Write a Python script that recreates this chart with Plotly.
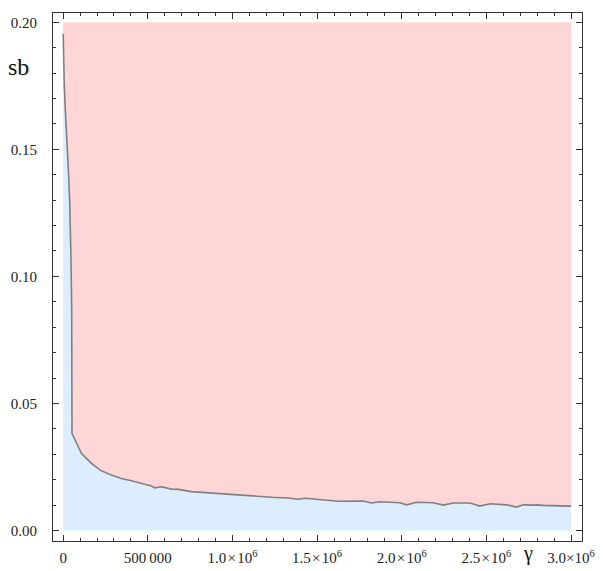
import plotly.graph_objects as go

# Boundary curve of the region (gamma, sb)
gamma = [0, 2000, 6000, 12000, 19000, 25000, 32000, 38000, 43000, 46000, 50000, 52000,
         68000, 107600, 166700, 225800, 284900, 344000, 403100, 462200, 521300, 540900,
         580500, 639600, 678600, 757800, 836400, 935100, 1033200, 1132000, 1230700, 1328800,
         1387900, 1427500, 1496700, 1594800, 1614900, 1772100, 1821800, 1870800, 1989000, 2028700,
         2087800, 2185900, 2245000, 2304100, 2402800, 2461900, 2521000, 2619700, 2678800, 2717900,
         2777000, 2797000, 2836100, 2994000, 3000000]
sb = [0.1955, 0.186, 0.176, 0.166, 0.158, 0.150, 0.140, 0.130, 0.118, 0.107, 0.088, 0.0382,
      0.0359, 0.0304, 0.0264, 0.0235, 0.0218, 0.0205, 0.0196, 0.0186, 0.0175, 0.0168,
      0.0172, 0.0163, 0.0162, 0.0153, 0.0149, 0.0145, 0.0140, 0.0136, 0.0131, 0.0128,
      0.0123, 0.0127, 0.0124, 0.0117, 0.0115, 0.0116, 0.0108, 0.0113, 0.0109, 0.0101,
      0.0111, 0.0109, 0.0100, 0.0108, 0.0108, 0.0096, 0.0105, 0.0101, 0.0092, 0.0101,
      0.0100, 0.0101, 0.0099, 0.0096, 0.0096]

sb_min = 0.0
sb_max = 0.20

x_tickvals = [0, 500000, 1000000, 1500000, 2000000, 2500000, 3000000]
x_ticktext = ["0", "500\u2009000", "1.0\u200a\u00d7\u200a10<sup>6</sup>",
              "1.5\u200a\u00d7\u200a10<sup>6</sup>", "2.0\u200a\u00d7\u200a10<sup>6</sup>",
              "2.5\u200a\u00d7\u200a10<sup>6</sup>", "3.0\u00d710<sup>6</sup>"]
y_tickvals = [0.0, 0.05, 0.10, 0.15, 0.20]
y_ticktext = ["0.00", "0.05", "0.10", "0.15", "0.20"]

pink = "rgb(255,214,216)"
blue = "rgb(220,237,254)"
edge = "rgb(128,128,128)"
serif = "Liberation Serif"

fig = go.Figure()
fig.add_trace(go.Scatter(x=gamma, y=[sb_min] * len(gamma), mode="lines",
                         line=dict(width=0, color=blue), hoverinfo="skip", showlegend=False))
fig.add_trace(go.Scatter(x=gamma, y=sb, mode="lines", fill="tonexty", fillcolor=blue,
                         line=dict(width=0, color=edge), showlegend=False))
fig.add_trace(go.Scatter(x=gamma, y=[sb_max] * len(gamma), mode="lines", fill="tonexty",
                         fillcolor=pink, line=dict(width=0, color=pink),
                         hoverinfo="skip", showlegend=False))
fig.add_trace(go.Scatter(x=gamma, y=sb, mode="lines",
                         line=dict(width=1.6, color=edge), showlegend=False))

font = dict(family=serif, size=15, color="#222")
axis_common = dict(showgrid=False, zeroline=False, showline=True, linecolor="#333",
                   linewidth=1, mirror="allticks", ticks="inside", ticklen=6,
                   tickcolor="#333", tickwidth=1, tickfont=font, automargin=False)

fig.update_xaxes(range=[-60300, 3065000], tickmode="array", tickvals=x_tickvals,
                 ticktext=x_ticktext,
                 minor=dict(tickmode="linear", tick0=0, dtick=100000, ticks="inside",
                            ticklen=3, tickcolor="#333"),
                 ticklabelstandoff=3, **axis_common)
fig.update_yaxes(range=[-0.00413, 0.20366], tickmode="array", tickvals=y_tickvals,
                 ticktext=y_ticktext,
                 minor=dict(tickmode="linear", tick0=0, dtick=0.01, ticks="inside",
                            ticklen=3, tickcolor="#333"),
                 ticklabelstandoff=12, **axis_common)

fig.add_annotation(text="sb", xref="paper", yref="paper", x=-0.066, y=0.898,
                   xanchor="center", yanchor="middle", showarrow=False,
                   font=dict(family=serif, size=24, color="#111"))
fig.add_annotation(text="\u03b3", xref="paper", yref="paper", x=0.897, y=-0.024,
                   xanchor="center", yanchor="middle", showarrow=False,
                   font=dict(family=serif, size=20, color="#111"))

fig.update_layout(width=603, height=571, margin=dict(l=45, r=29, t=5, b=38),
                  plot_bgcolor="white", paper_bgcolor="white", font=dict(family=serif))

fig.write_html("out.html")
